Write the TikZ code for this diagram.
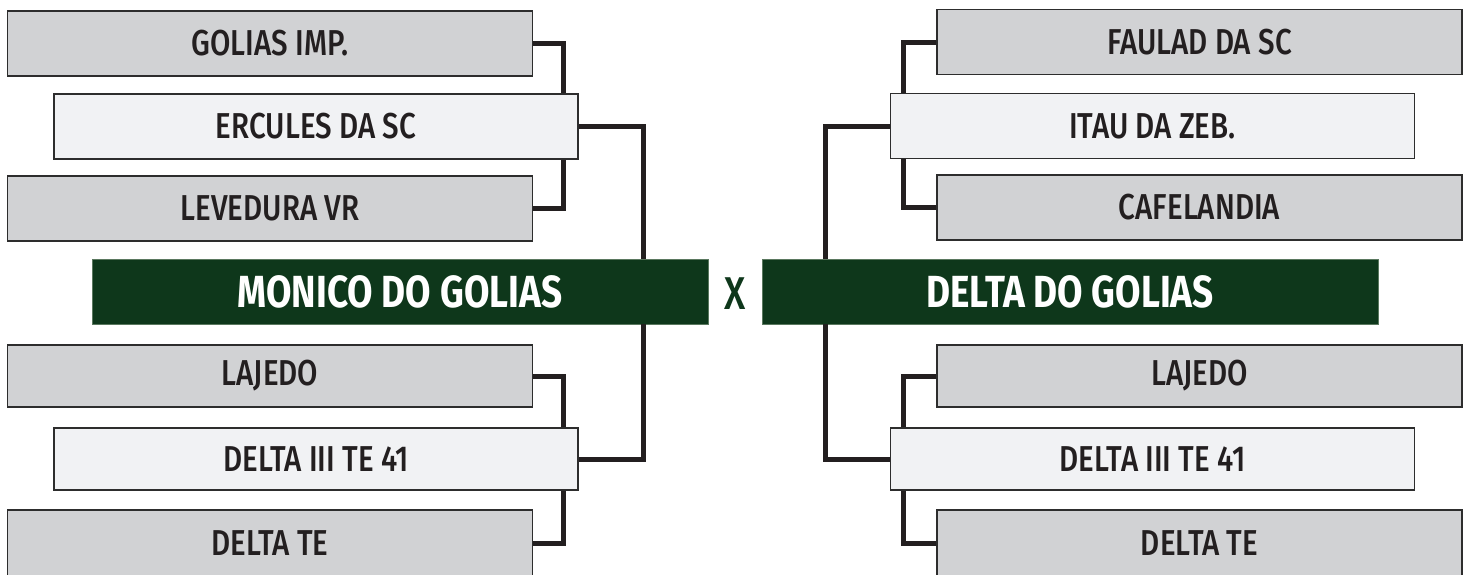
\documentclass[tikz,border=0pt]{standalone}
\usepackage{fontspec}
\setmainfont{Fira Sans}[UprightFont={* Medium},BoldFont={* Bold},FakeStretch=0.82]
\usetikzlibrary{calc}
\definecolor{boxgray}{RGB}{209,210,212}
\definecolor{boxlight}{RGB}{241,242,244}
\definecolor{edgegray}{RGB}{45,45,45}
\definecolor{inkline}{RGB}{35,31,32}
\definecolor{dkgreen}{RGB}{14,55,27}
\definecolor{greenedge}{RGB}{90,120,95}
\begin{document}
\begin{tikzpicture}[x=1pt,y=-1pt,
  team/.style={draw=edgegray,line width=1.2pt,minimum width=525pt,minimum height=65pt,inner sep=0pt,font=\fontsize{36}{36}\selectfont,text=inkline},
  grayteam/.style={team,fill=boxgray},
  lightteam/.style={team,fill=boxlight,minimum width=524pt},
  final/.style={fill=dkgreen,draw=greenedge,line width=0.8pt,minimum width=616pt,minimum height=65pt,inner sep=0pt,font=\bfseries\fontsize{45}{45}\selectfont,text=white},
  link/.style={draw=inkline,line width=5pt}]
\useasboundingbox (0,0) rectangle (1469,574);
% left side
\node[grayteam] (L1) at (270,43.5) {GOLIAS IMP.};
\node[lightteam] (L2) at (316,126.5) {ERCULES DA SC};
\node[grayteam] (L3) at (270,208.5) {LEVEDURA VR};
\node[final] (GL) at (400,291.5) {MONICO DO GOLIAS};
\node[grayteam,minimum height=62pt] (L4) at (270,376) {LAJEDO};
\node[lightteam,minimum height=62pt] (L5) at (316,459) {DELTA III TE 41};
\node[grayteam,minimum height=66pt] (L6) at (270,543) {DELTA TE};
% right side
\node[grayteam] (R1) at (1199.5,42) {FAULAD DA SC};
\node[lightteam] (R2) at (1152.5,126) {ITAU DA ZEB.};
\node[grayteam] (R3) at (1199.5,207.5) {CAFELANDIA};
\node[final] (GR) at (1070,291.5) {DELTA DO GOLIAS};
\node[grayteam,minimum height=62pt] (R4) at (1199.5,376) {LAJEDO};
\node[lightteam,minimum height=62pt] (R5) at (1152.5,459) {DELTA III TE 41};
\node[grayteam,minimum height=66pt] (R6) at (1199.5,543) {DELTA TE};
\node[font=\fontsize{46}{46}\selectfont,text=dkgreen,inner sep=0pt] (vs) at (735,294) {X};
% connectors left
\draw[link] (L1.east) -| ($(L2.north east)+(-15,0)$);
\draw[link] (L3.east) -| ($(L2.south east)+(-15,0)$);
\draw[link] (L2.east) -| ($(GL.north east)+(-65,0)$);
\draw[link] (L4.east) -| ($(L5.north east)+(-15,0)$);
\draw[link] (L6.east) -| ($(L5.south east)+(-15,0)$);
\draw[link] (L5.east) -| ($(GL.south east)+(-65,0)$);
% connectors right
\draw[link] (R1.west) -| ($(R2.north west)+(14,0)$);
\draw[link] (R3.west) -| ($(R2.south west)+(14,0)$);
\draw[link] (R2.west) -| ($(GR.north west)+(64,0)$);
\draw[link] (R4.west) -| ($(R5.north west)+(14,0)$);
\draw[link] (R6.west) -| ($(R5.south west)+(14,0)$);
\draw[link] (R5.west) -| ($(GR.south west)+(64,0)$);
\end{tikzpicture}
\end{document}
